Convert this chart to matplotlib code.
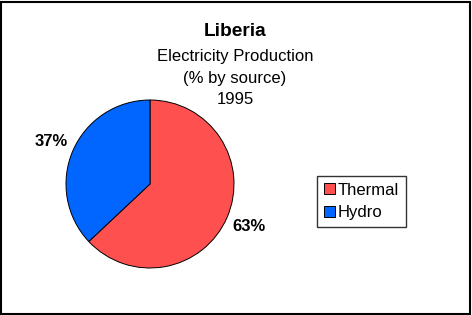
import matplotlib

matplotlib.use("Agg")
import matplotlib.pyplot as plt
from matplotlib.patches import Rectangle

plt.rcParams["font.family"] = ["Liberation Sans", "DejaVu Sans"]

W, H = 472, 315

sources = ["Thermal", "Hydro"]
shares = [63, 37]
colors = ["#FF5050", "#0066FF"]

title = "Liberia"
subtitle = ["Electricity Production", "(% by source)", "1995"]

fig = plt.figure(figsize=(W / 100, H / 100), dpi=100)
fig.patch.set_facecolor("white")
fig.patches.append(Rectangle((1 / W, 1 / H), 1 - 3 / W, 1 - 3 / H,
                             transform=fig.transFigure, fill=False,
                             edgecolor="black", lw=1.5))

# pie axes: centre ~ (150, 184) px, radius ~ 84 px
ax = fig.add_axes([66 / W, (H - 268) / H, 168 / W, 168 / H])
wedges, _, autotexts = ax.pie(
    shares, colors=colors, startangle=90, counterclock=False,
    autopct="%d%%", pctdistance=1.28, radius=1,
    wedgeprops={"edgecolor": "black", "linewidth": 0.7},
    textprops={"fontsize": 12, "fontweight": "bold"})
ax.set_xlim(-1, 1)
ax.set_ylim(-1, 1)
ax.set_aspect("equal")
ax.axis("off")

fig.text(235 / W, 1 - 32 / H, title, ha="center", va="center",
         fontsize=13.8, fontweight="bold")
for i, line in enumerate(subtitle):
    fig.text(235 / W, 1 - (57 + 21.5 * i) / H, line, ha="center",
             va="center", fontsize=12)

leg = fig.legend(wedges, sources, loc="upper left",
                 bbox_to_anchor=(317 / W, 1 - 176 / H), fontsize=12,
                 frameon=True, fancybox=False, edgecolor="black",
                 handlelength=0.66, handleheight=0.66, handletextpad=0.2,
                 labelspacing=0.45, borderpad=0.4, borderaxespad=0)
leg.get_frame().set_linewidth(1.0)

fig.savefig("out.png", dpi=100, facecolor="white")
